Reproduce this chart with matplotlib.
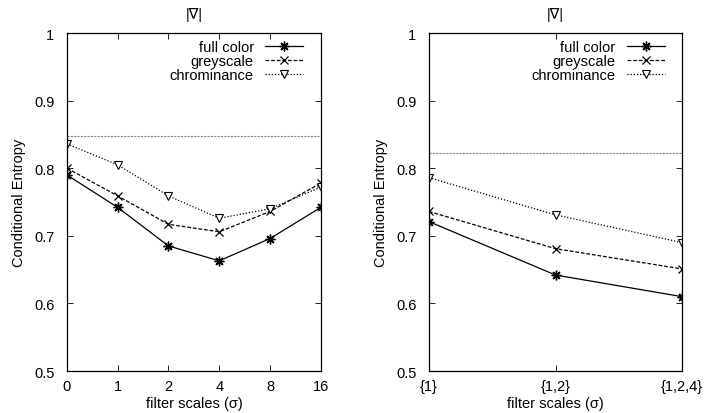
import matplotlib
matplotlib.use('Agg')
import matplotlib.pyplot as plt

plt.rcParams['font.family'] = ['Liberation Sans', 'DejaVu Sans']
plt.rcParams['font.size'] = 10

# left panel: single scales
left_labels = ['0', '1', '2', '4', '8', '16']
left_full = [0.790, 0.742, 0.685, 0.663, 0.696, 0.742]
left_grey = [0.800, 0.759, 0.717, 0.706, 0.736, 0.778]
left_chrom = [0.836, 0.805, 0.759, 0.726, 0.740, 0.772]
left_base = 0.848

# right panel: combined scales
right_labels = ['{1}', '{1,2}', '{1,2,4}']
right_full = [0.721, 0.642, 0.610]
right_grey = [0.736, 0.681, 0.651]
right_chrom = [0.786, 0.731, 0.690]
right_base = 0.822

fig = plt.figure(figsize=(7.21, 4.14), dpi=100)
ax1 = fig.add_axes([0.0929, 0.1014, 0.352, 0.8164])
ax2 = fig.add_axes([0.595, 0.1014, 0.351, 0.8164])


def draw(ax, labels, full, grey, chrom, base):
    x = list(range(len(labels)))
    ax.axhline(base, color='#888888', linestyle=(0, (2, 1)), linewidth=0.8)
    ax.plot(x, full, color='black', linestyle='-', linewidth=0.9,
            marker=(8, 2, 0), markersize=7, markeredgewidth=1.0, label='full color')
    ax.plot(x, grey, color='black', linestyle=(0, (3, 1.5)), linewidth=0.9,
            marker='x', markersize=6, markeredgewidth=0.9, label='greyscale')
    ax.plot(x, chrom, color='black', linestyle=(0, (1, 1.5)), linewidth=0.9,
            marker='v', markersize=5.5, markerfacecolor='white', markeredgewidth=0.8,
            label='chrominance')
    ax.set_xlim(0, len(labels) - 1)
    ax.set_ylim(0.5, 1.0)
    ax.set_xticks(x)
    ax.set_xticklabels(labels)
    ax.set_yticks([0.5, 0.6, 0.7, 0.8, 0.9, 1.0])
    ax.set_yticklabels(['0.5', '0.6', '0.7', '0.8', '0.9', '1'])
    ax.tick_params(direction='in', top=True, right=True, length=4, width=0.6,
                   labelsize=10.5)
    ax.tick_params(axis='y', pad=9)
    ax.tick_params(axis='x', pad=6)
    for s in ax.spines.values():
        s.set_linewidth(0.9)
    ax.set_xlabel('filter scales (σ)', fontsize=10.5, labelpad=2)
    ax.set_ylabel('Conditional Entropy', fontsize=10.5, labelpad=6)
    ax.set_title('|∇|', fontsize=10.5, pad=11)
    ax.legend(loc='upper right', frameon=False, markerfirst=False, fontsize=10.5,
              handlelength=2.6, labelspacing=0.0, borderaxespad=0.2,
              borderpad=0.3, handletextpad=0.8, bbox_to_anchor=(0.96, 1.0))


draw(ax1, left_labels, left_full, left_grey, left_chrom, left_base)
draw(ax2, right_labels, right_full, right_grey, right_chrom, right_base)

plt.savefig('out.png', dpi=100)
